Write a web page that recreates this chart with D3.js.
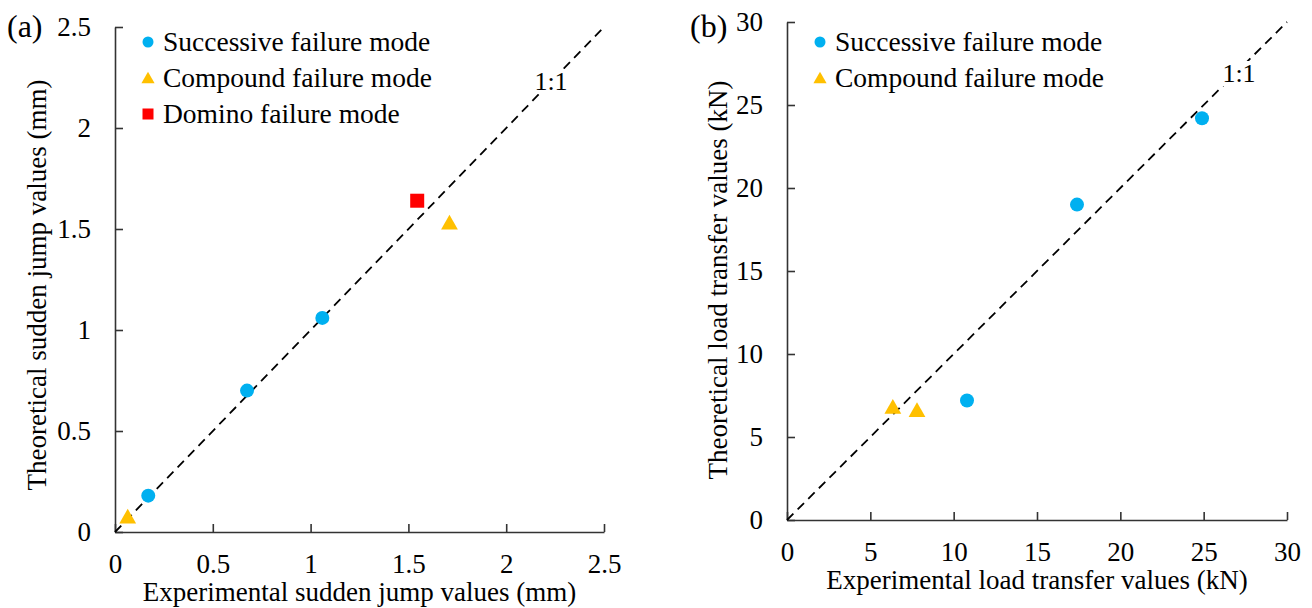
<!DOCTYPE html>
<html>
<head>
<meta charset="utf-8">
<script src="https://cdn.jsdelivr.net/npm/d3@7"></script>
<style>
  body { margin: 0; background: #fff; }
  .axis path, .axis line { stroke: #333; stroke-width: 1.6; }
</style>
</head>
<body>
<script>
//data
var jumpTicks = [0, 0.5, 1, 1.5, 2, 2.5];
var jumpSuccessive = [[0.17, 0.18], [0.675, 0.70], [1.06, 1.06]];
var jumpCompound = [[0.065, 0.075], [1.71, 1.53]];
var jumpDomino = [[1.545, 1.64]];

var loadTicks = [0, 5, 10, 15, 20, 25, 30];
var loadSuccessive = [[10.8, 7.2], [17.4, 19.0], [24.9, 24.2]];
var loadCompound = [[6.35, 6.8], [7.8, 6.6]];

var legendLabels = ["Successive failure mode", "Compound failure mode", "Domino failure mode"];
var colors = ["#00B0F0", "#FFC000", "#FF0000"];

var serif = "'Liberation Serif', 'Times New Roman', serif";

var svg = d3.select("body").append("svg")
    .attr("width", 1312)
    .attr("height", 608);

//draw one marker of a given type
function marker(g, type, x, y, s){
    if (type == 0){
        g.append("circle").attr("cx", x).attr("cy", y).attr("r", s * 0.5).attr("fill", colors[0]);
    } else if (type == 1){
        var w = s * 1.2, h = s * 1.05;
        g.append("path")
            .attr("d", "M" + x + "," + (y - h * 0.55) + "L" + (x + w / 2) + "," + (y + h * 0.45) + "L" + (x - w / 2) + "," + (y + h * 0.45) + "Z")
            .attr("fill", colors[1]);
    } else {
        g.append("rect").attr("x", x - s / 2).attr("y", y - s / 2).attr("width", s).attr("height", s).attr("fill", colors[2]);
    }
}

function addText(g, x, y, size, str){
    return g.append("text")
        .attr("x", x).attr("y", y)
        .attr("font-family", serif)
        .attr("font-size", size)
        .attr("fill", "#000")
        .text(str);
}

function drawPanel(p){
    var g = svg.append("g");

    var x = d3.scaleLinear().domain([0, p.max]).range([p.left, p.right]);
    var y = d3.scaleLinear().domain([0, p.max]).range([p.bottom, p.top]);

    //x axis, ticks pointing inward
    var xAxis = g.append("g")
        .attr("class", "axis")
        .attr("transform", "translate(0," + p.bottom + ")")
        .call(d3.axisBottom(x).tickValues(p.ticks).tickFormat(d3.format("")).tickSize(-8).tickSizeOuter(0).tickPadding(22));

    //y axis
    var yAxis = g.append("g")
        .attr("class", "axis")
        .attr("transform", "translate(" + p.left + ",0)")
        .call(d3.axisLeft(y).tickValues(p.ticks).tickFormat(d3.format("")).tickSize(-8).tickSizeOuter(0).tickPadding(24));

    [xAxis, yAxis].forEach(function(a){
        a.attr("font-family", serif).attr("font-size", 27);
        a.selectAll("text").attr("fill", "#000");
    });

    //1:1 line
    g.append("line")
        .attr("x1", x(0)).attr("y1", y(0))
        .attr("x2", x(p.max)).attr("y2", y(p.max))
        .attr("stroke", "#000")
        .attr("stroke-width", 1.8)
        .attr("stroke-dasharray", "9,6");

    //label sits on a white patch that hides the line
    var one = addText(g, p.oneX, p.oneY, 26, "1:1").attr("text-anchor", "middle");
    var bb = one.node().getBBox();
    g.append("rect")
        .attr("x", bb.x - 3).attr("y", bb.y + 2)
        .attr("width", bb.width + 6).attr("height", bb.height - 4)
        .attr("fill", "#fff");
    one.raise();

    //points
    p.series.forEach(function(s, i){
        s.forEach(function(d){
            marker(g, i, x(d[0]), y(d[1]), 14);
        });
    });

    //legend
    p.series.forEach(function(s, i){
        var ly = 42 + i * 36;
        marker(g, i, p.legendX, ly, i == 2 ? 11 : 11);
        addText(g, p.legendX + 15, ly + 9, 27.5, legendLabels[i]);
    });

    //axis titles
    addText(g, (p.left + p.right) / 2, p.bottom + 69, 27, p.xTitle)
        .attr("text-anchor", "middle");

    addText(g, 0, 0, 27, p.yTitle)
        .attr("transform", "translate(" + p.yTitleX + "," + p.yTitleY + ") rotate(-90)")
        .attr("text-anchor", "middle");

    //panel label
    addText(g, p.labelX, 37, 32, p.label);
}

drawPanel({
    max: 2.5, ticks: jumpTicks,
    left: 115, right: 604, bottom: 532, top: 27,
    series: [jumpSuccessive, jumpCompound, jumpDomino],
    legendX: 148,
    oneX: 551, oneY: 90,
    xTitle: "Experimental sudden jump values (mm)",
    yTitle: "Theoretical sudden jump values (mm)",
    yTitleX: 46, yTitleY: 285,
    label: "(a)", labelX: 7
});

drawPanel({
    max: 30, ticks: loadTicks,
    left: 787, right: 1287, bottom: 520, top: 22,
    series: [loadSuccessive, loadCompound],
    legendX: 820,
    oneX: 1239, oneY: 82,
    xTitle: "Experimental load transfer values (kN)",
    yTitle: "Theoretical load transfer values (kN)",
    yTitleX: 727, yTitleY: 280,
    label: "(b)", labelX: 690
});
</script>
</body>
</html>
